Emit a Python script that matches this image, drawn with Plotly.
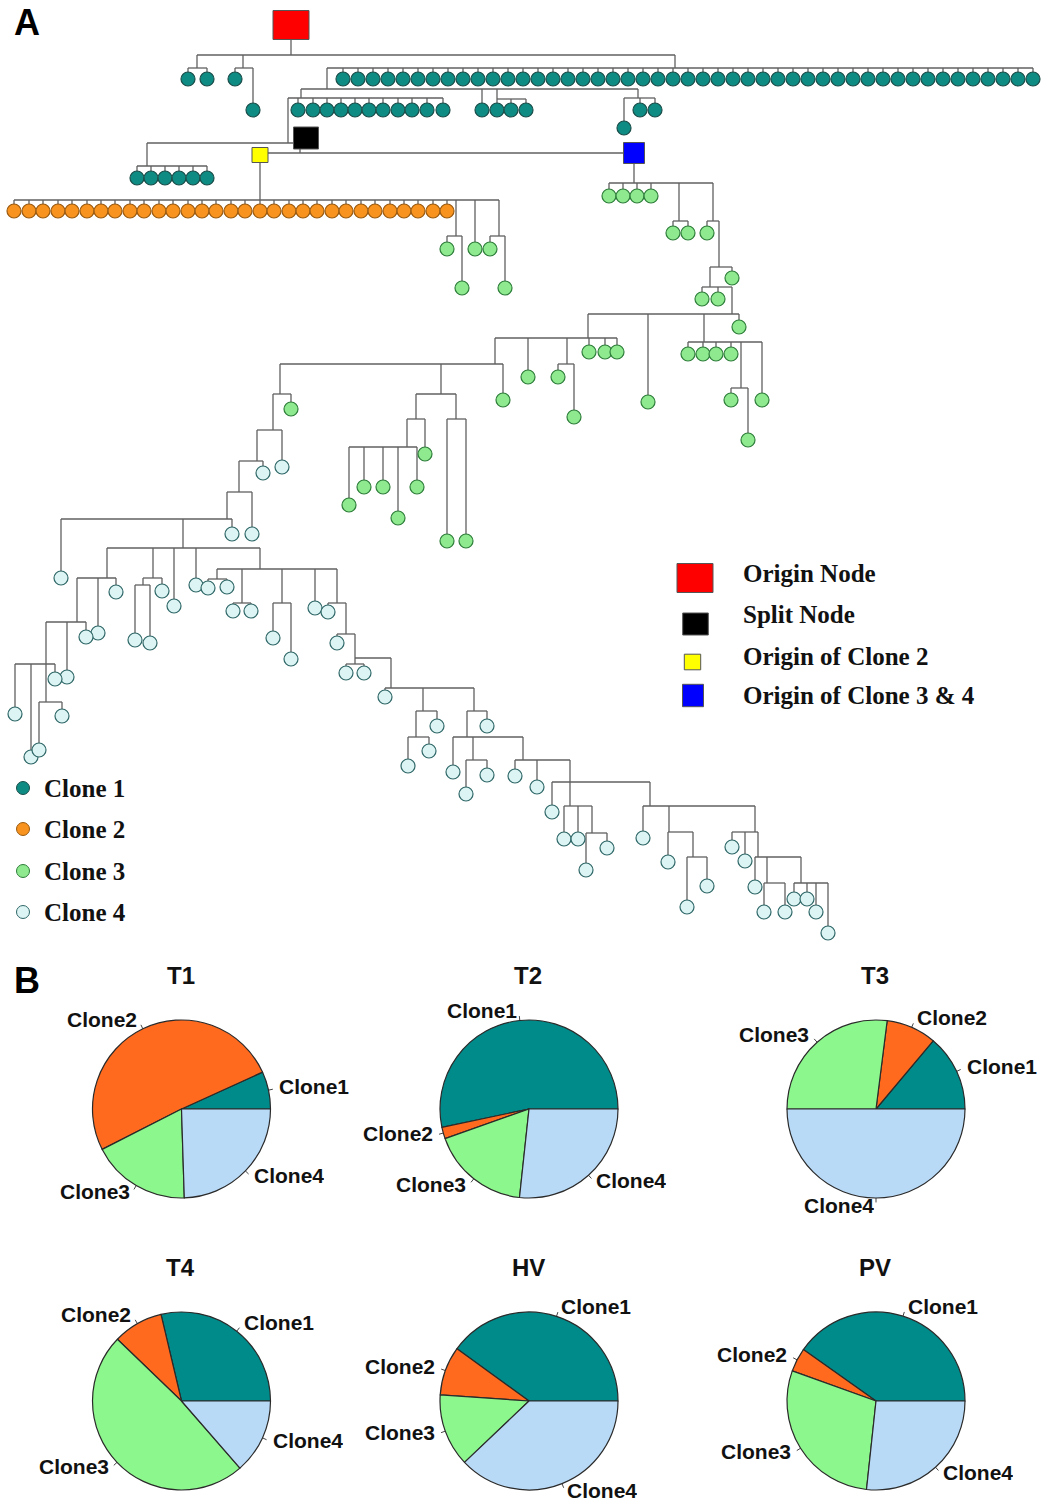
import math
from collections import defaultdict
import plotly.graph_objects as go

W, H = 1041, 1501

# ---------------- Panel A : clonal tree (node positions) ----------------
junction_id = ["origin", "t_root", "t_a", "t_b", "t_c", "t_d", "t_e", "t_f", "t_g", "t_h", "t_i",
               "split", "t_split", "yellow", "blue", "o_a", "o_b", "o_c",
               "g_0", "g_1", "g_2", "g_3", "g_4", "g_5", "g_6", "g_7", "g_8", "g_9", "g_10",
               "g_11", "g_12", "g_13", "g_14", "g_15",
               "c_0", "c_1", "c_2", "c_3", "c_4", "c_5", "c_6", "c_7", "c_8", "c_9", "c_10",
               "c_11", "c_12", "c_13", "c_14", "c_15", "c_16", "c_17", "c_18", "c_19", "c_20",
               "c_21", "c_22", "c_23", "c_24", "c_25", "c_26", "c_27", "c_28", "c_29", "c_30",
               "c_31", "c_32", "c_33", "c_34", "c_35"]
junction_parent = [None, "origin", "t_root", "t_root", "t_root", "t_c", "t_d", "t_d", "t_d", "t_e", "t_h",
                   "t_h", "split", "t_split", "t_split", "yellow", "o_a", "o_a",
                   "blue", "g_0", "g_0", "g_2", "g_3", "g_4", "g_5", "g_5", "g_7", "g_6", "g_6",
                   "g_9", "g_9", "g_12", "g_13", "g_12",
                   "g_11", "c_0", "c_1", "c_2", "c_3", "c_4", "c_5", "c_6", "c_7", "c_4", "c_9",
                   "c_4", "c_11", "c_11", "c_11", "c_11", "c_15", "c_16", "c_17", "c_17", "c_19",
                   "c_20", "c_19", "c_22", "c_23", "c_23", "c_25", "c_26", "c_27", "c_26", "c_29",
                   "c_30", "c_29", "c_32", "c_33", "c_33"]
junction_x = [291, 291, 197, 243, 675, 327, 301, 497, 638, 288, 147,
              306, 300, 260, 634, 260, 456, 499,
              634, 679, 713, 719, 710, 732, 588, 704, 741, 495, 567,
              280, 441, 416, 407, 456,
              273, 257, 239, 227, 183, 107, 77, 46, 46, 153, 143,
              260, 217, 242, 282, 337, 346, 355, 355, 391, 423,
              416, 474, 467, 473, 523, 570, 570, 592, 650, 669,
              693, 755, 758, 767, 801]
junction_y = [25, 55, 68, 68, 68, 89, 98, 99, 98, 143, 166,
              138, 153, 155, 153, 200, 236, 236,
              183, 221, 221, 267, 287, 314, 338, 342, 388, 364, 364,
              394, 394, 419, 447, 419,
              430, 461, 492, 519, 548, 578, 622, 664, 702, 578, 585,
              569, 579, 603, 603, 603, 634, 658, 664, 688, 711,
              737, 711, 737, 760, 760, 782, 806, 833, 806, 832,
              857, 832, 857, 883, 883]

special_nodes = ["origin", "split", "yellow", "blue"]
special_fill = ["#FF0000", "#000000", "#FFFF00", "#0000FF"]

# Clone 1 leaves
clone1_parent = (["t_a"] * 2 + ["t_b"] * 2 + ["t_c"] * 47 + ["t_e"] * 11 + ["t_d"]
                 + ["t_f"] * 3 + ["t_g"] * 3 + ["t_i"] * 6)
clone1_x = ([188, 207, 235, 253]
            + [343, 358, 373, 388, 403, 418, 433, 448, 463, 478,
               493, 508, 523, 538, 553, 568, 583, 598, 613, 628,
               643, 658, 673, 688, 703, 718, 733, 748, 763, 778,
               793, 808, 823, 838, 853, 868, 883, 898, 913, 928,
               943, 958, 973, 988, 1003, 1018, 1033]
            + [298, 313, 327, 341, 355, 369, 383, 398, 412, 427, 443]
            + [482, 497, 511, 526, 624, 640, 655]
            + [137, 151, 165, 179, 193, 207])
clone1_y = ([79, 79, 79, 110] + [79] * 47 + [110] * 11 + [110, 110, 110, 110, 128, 110, 110] + [178] * 6)

# Clone 2 leaves
clone2_parent = ["o_a"] * 31
clone2_x = [14, 29, 43, 58, 72, 87, 101, 115, 130, 144, 159, 173, 188, 202, 216, 231,
            245, 260, 274, 289, 303, 317, 332, 346, 361, 375, 390, 404, 418, 433, 447]
clone2_y = [211] * 31

# Clone 3 leaves
clone3_parent = ["o_b", "o_b", "o_a", "o_c", "o_c",
                 "g_0", "g_0", "g_0", "g_0", "g_1", "g_1", "g_2", "g_3", "g_4", "g_4",
                 "g_5", "g_5", "g_7", "g_7", "g_7", "g_7", "g_7", "g_8", "g_8",
                 "g_6", "g_6", "g_6", "g_6", "g_10", "g_10", "g_9", "g_11", "g_13",
                 "g_14", "g_14", "g_14", "g_14", "g_14", "g_15", "g_15"]
clone3_x = [447, 462, 475, 490, 505,
            609, 623, 637, 651, 673, 688, 707, 732, 702, 718,
            648, 739, 688, 703, 716, 731, 762, 731, 748,
            528, 589, 605, 617, 558, 574, 503, 291, 425,
            349, 364, 383, 398, 417, 447, 466]
clone3_y = [249, 288, 249, 249, 288,
            196, 196, 196, 196, 233, 233, 233, 278, 299, 299,
            402, 327, 354, 354, 354, 354, 400, 400, 440,
            377, 352, 352, 352, 377, 417, 400, 409, 454,
            505, 487, 487, 518, 487, 541, 541]

# Clone 4 leaves
clone4_parent = ["c_0", "c_1", "c_2", "c_3", "c_3", "c_4", "c_4", "c_5", "c_5", "c_6", "c_6",
                 "c_7", "c_7", "c_7", "c_8", "c_8", "c_9", "c_10", "c_10", "c_11",
                 "c_12", "c_12", "c_13", "c_13", "c_14", "c_14", "c_15", "c_16", "c_18", "c_18",
                 "c_19", "c_20", "c_21", "c_21", "c_22", "c_23", "c_24", "c_24", "c_25", "c_25",
                 "c_26", "c_27", "c_27", "c_28", "c_28", "c_29", "c_30", "c_31", "c_31",
                 "c_32", "c_32", "c_33", "c_34", "c_34", "c_35", "c_35", "c_35", "c_35"]
clone4_x = [282, 263, 252, 61, 232, 174, 196, 98, 116, 67, 86,
            15, 31, 55, 62, 39, 162, 135, 150, 315,
            208, 227, 233, 251, 273, 291, 328, 337, 346, 364,
            385, 437, 408, 429, 487, 453, 466, 487, 515, 537,
            552, 564, 578, 586, 607, 643, 668, 687, 707,
            732, 745, 755, 764, 785, 794, 807, 816, 828]
clone4_y = [467, 473, 534, 578, 534, 606, 585, 633, 592, 677, 637,
            714, 757, 679, 716, 750, 591, 640, 643, 608,
            588, 587, 611, 611, 638, 659, 612, 643, 673, 673,
            697, 726, 766, 751, 726, 772, 794, 775, 776, 787,
            812, 839, 839, 870, 848, 838, 862, 907, 886,
            847, 861, 887, 912, 912, 899, 899, 912, 933]

clone_names = ["Clone 1", "Clone 2", "Clone 3", "Clone 4"]
clone_fill = ["#0E8C84", "#F7931E", "#8FEA8F", "#DDF4F4"]
clone_edge = ["#1B4D49", "#9A5A10", "#2E7D3A", "#2F6767"]

# ---------------- Panel B : clone proportions (%) ----------------
pie_titles = ["T1", "T2", "T3", "T4", "HV", "PV"]
pie_labels = ["Clone1", "Clone2", "Clone3", "Clone4"]
t1_values = [6.8, 50.7, 18.0, 24.5]
t2_values = [53.3, 2.1, 17.9, 26.7]
t3_values = [13.9, 9.1, 27.0, 50.0]
t4_values = [28.7, 9.1, 48.6, 13.6]
hv_values = [40.0, 8.9, 13.2, 37.9]
pv_values = [40.2, 4.3, 28.8, 26.7]
pie_values = [t1_values, t2_values, t3_values, t4_values, hv_values, pv_values]
pie_colors = ["#008B8B", "#FF6A1F", "#8CF78C", "#B9DAF7"]

# ---------------- build figure ----------------
fig = go.Figure()

pos = {}
for nid, x, y in zip(junction_id, junction_x, junction_y):
    pos[nid] = (x, y)
children = defaultdict(list)
for nid, par in zip(junction_id, junction_parent):
    if par is not None:
        children[par].append(pos[nid])
for plist, xl, yl in [(clone1_parent, clone1_x, clone1_y), (clone2_parent, clone2_x, clone2_y),
                      (clone3_parent, clone3_x, clone3_y), (clone4_parent, clone4_x, clone4_y)]:
    for p, x, y in zip(plist, xl, yl):
        children[p].append((x, y))

lx, ly = [], []
for par, ch in children.items():
    px, py = pos[par]
    xs = [c[0] for c in ch] + [px]
    lx += [min(xs), max(xs), None]
    ly += [py, py, None]
    for cx, cy in ch:
        lx += [cx, cx, None]
        ly += [py, cy, None]

fig.add_trace(go.Scatter(x=lx, y=ly, mode="lines", line=dict(color="#606060", width=1.3),
                         hoverinfo="skip", showlegend=False))

for k, (xl, yl) in enumerate([(clone1_x, clone1_y), (clone2_x, clone2_y),
                              (clone3_x, clone3_y), (clone4_x, clone4_y)]):
    fig.add_trace(go.Scatter(x=xl, y=yl, mode="markers", name=clone_names[k],
                             marker=dict(size=14, color=clone_fill[k],
                                         line=dict(color=clone_edge[k], width=1.2)),
                             showlegend=False))

shapes = []
annotations = []

# special square nodes in the tree
half_sizes = {"origin": (18, 14.5), "split": (12.5, 11), "yellow": (8, 7.5), "blue": (10.5, 10.5)}
for nid, fc in zip(special_nodes, special_fill):
    x, y = pos[nid]
    hw, hh = half_sizes[nid]
    shapes.append(dict(type="rect", xref="x", yref="y", x0=x - hw, x1=x + hw, y0=y - hh, y1=y + hh,
                       fillcolor=fc, line=dict(color="#555555", width=1)))

# legend (bottom-left, clones)
leg_y = [788, 829, 871, 912]
for k in range(4):
    shapes.append(dict(type="circle", xref="x", yref="y", x0=23 - 6.5, x1=23 + 6.5,
                       y0=leg_y[k] - 6.5, y1=leg_y[k] + 6.5, fillcolor=clone_fill[k],
                       line=dict(color=clone_edge[k], width=1)))
    annotations.append(dict(x=42, y=leg_y[k], xref="x", yref="y", text="<b>%s</b>" % clone_names[k],
                            showarrow=False, xanchor="left", yanchor="middle",
                            font=dict(family="Liberation Serif", size=25, color="#111111")))

# legend (right, special nodes)
sq_legend = [("Origin Node", "#FF0000", 695, 578, 18, 14.5),
             ("Split Node", "#000000", 695.5, 624, 12.8, 11),
             ("Origin of Clone 2", "#FFFF00", 692.5, 662, 8.2, 7.8),
             ("Origin of Clone 3 & 4", "#0000FF", 693, 695.5, 10.5, 11.2)]
text_y = [573, 614, 656, 695]
for (lab, fc, x, y, hw, hh), ty in zip(sq_legend, text_y):
    shapes.append(dict(type="rect", xref="x", yref="y", x0=x - hw, x1=x + hw, y0=y - hh, y1=y + hh,
                       fillcolor=fc, line=dict(color="#555555", width=1)))
    annotations.append(dict(x=741, y=ty, xref="x", yref="y", text="<b>%s</b>" % lab,
                            showarrow=False, xanchor="left", yanchor="middle",
                            font=dict(family="Liberation Serif", size=25, color="#111111")))

# panel letters
for letter, y in [("A", 22), ("B", 980)]:
    annotations.append(dict(x=12, y=y, xref="x", yref="y", text="<b>%s</b>" % letter, showarrow=False,
                            xanchor="left", yanchor="middle",
                            font=dict(family="Liberation Sans", size=36, color="#000000")))

# pies (slices run counter-clockwise from 3 o'clock, Clone1 first)
pie_cx = [181.5, 529, 876]
pie_cy = [1109, 1401]
R = 89
tx, ty_ = [], []
for i, (title, vals) in enumerate(zip(pie_titles, pie_values)):
    cx = pie_cx[i % 3]
    cy = pie_cy[i // 3]
    total = float(sum(vals))
    first_deg = 360.0 * vals[0] / total
    fig.add_trace(go.Pie(values=vals, labels=pie_labels, sort=False, direction="counterclockwise",
                         rotation=90 - first_deg, textinfo="none", hoverinfo="label+percent",
                         marker=dict(colors=pie_colors, line=dict(color="#2A2A2A", width=1.2)),
                         domain=dict(x=[(cx - R) / W, (cx + R) / W], y=[1 - (cy + R) / H, 1 - (cy - R) / H]),
                         showlegend=False))
    annotations.append(dict(x=cx - 1, y=cy - 134, xref="x", yref="y", text="<b>%s</b>" % title,
                            showarrow=False, xanchor="center", yanchor="middle",
                            font=dict(family="Liberation Sans", size=24, color="#111111")))
    cum = 0.0
    for lab, v in zip(pie_labels, vals):
        mid = 2 * math.pi * (cum + v / 2.0) / total
        cum += v
        c, s = math.cos(mid), math.sin(mid)
        tx += [cx + R * c, cx + 1.05 * R * c, None]
        ty_ += [cy - R * s, cy - 1.05 * R * s, None]
        annotations.append(dict(x=cx + 1.1 * R * c, y=cy - 1.1 * R * s, xref="x", yref="y",
                                text="<b>%s</b>" % lab, showarrow=False, height=18, yshift=2,
                                xanchor="right" if c < 0 else "left", yanchor="middle",
                                font=dict(family="Liberation Sans", size=21, color="#111111")))

fig.add_trace(go.Scatter(x=tx, y=ty_, mode="lines", line=dict(color="#444444", width=1),
                         hoverinfo="skip", showlegend=False))

fig.update_layout(
    width=W, height=H, margin=dict(l=0, r=0, t=0, b=0),
    paper_bgcolor="white", plot_bgcolor="white",
    xaxis=dict(range=[0, W], visible=False, domain=[0, 1], fixedrange=True),
    yaxis=dict(range=[H, 0], visible=False, domain=[0, 1], fixedrange=True),
    shapes=shapes, annotations=annotations, showlegend=False,
)

fig.write_html("out.html", config={"displayModeBar": False},
               post_script="document.body.style.margin='0';"
                           "document.body.style.overflow='hidden';"
                           "document.documentElement.style.overflow='hidden';")
